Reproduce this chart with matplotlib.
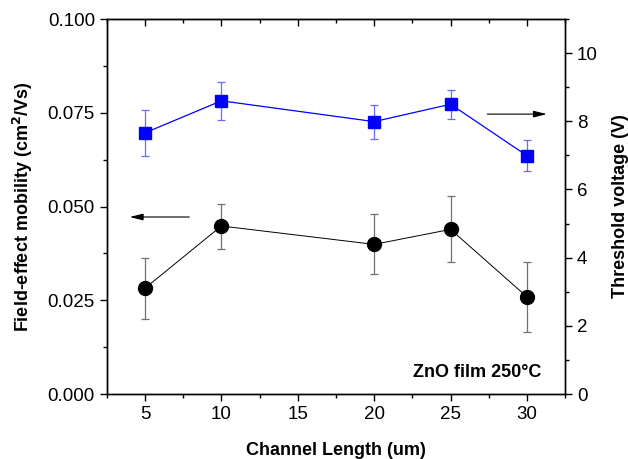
import matplotlib.pyplot as plt
from matplotlib.ticker import MultipleLocator

plt.rcParams['font.family'] = ['Liberation Sans', 'DejaVu Sans']

# channel length (um)
length = [5, 10, 20, 25, 30]

# field-effect mobility (cm2/Vs), left axis
mobility = [0.0282, 0.0448, 0.0399, 0.0439, 0.0259]
mobility_err = [0.0082, 0.0060, 0.0080, 0.0088, 0.0094]

# threshold voltage (V), right axis
vth = [7.66, 8.60, 7.99, 8.50, 6.99]
vth_err = [0.68, 0.55, 0.50, 0.43, 0.45]

fig = plt.figure(figsize=(6.28, 4.59), dpi=100)
ax = fig.add_axes([0.170, 0.1416, 0.730, 0.817])
ax2 = ax.twinx()

# mobility series
ax.errorbar(length, mobility, yerr=mobility_err, color='black', ecolor='#707070',
            elinewidth=0.9, capsize=3, capthick=0.9, lw=0.7, marker='o', ms=10)
# threshold voltage series
ax2.errorbar(length, vth, yerr=vth_err, color='#0000ff', ecolor='#6a6aff',
             elinewidth=0.9, capsize=3, capthick=0.9, lw=0.9, marker='s', ms=9)

ax.set_xlim(2.5, 32.5)
ax.set_ylim(0, 0.1)
ax2.set_ylim(0, 11)

ax.xaxis.set_major_locator(MultipleLocator(5))
ax.xaxis.set_minor_locator(MultipleLocator(2.5))
ax.yaxis.set_major_locator(MultipleLocator(0.025))
ax.yaxis.set_minor_locator(MultipleLocator(0.0125))
ax2.yaxis.set_major_locator(MultipleLocator(2))
ax2.yaxis.set_minor_locator(MultipleLocator(1))
ax.yaxis.set_major_formatter(plt.FormatStrFormatter('%.3f'))

for a in (ax, ax2):
    a.tick_params(which='major', direction='out', length=5, width=1, labelsize=13.5)
    a.tick_params(which='minor', direction='out', length=3, width=1)
    for s in a.spines.values():
        s.set_linewidth(1.0)

top = ax.secondary_xaxis('top')
top.xaxis.set_major_locator(MultipleLocator(5))
top.xaxis.set_minor_locator(MultipleLocator(2.5))
top.tick_params(which='major', direction='in', length=5, width=1, labeltop=False)
top.tick_params(which='minor', direction='in', length=3, width=1)

ax.set_xlabel('Channel Length (um)', fontsize=13, fontweight='bold', labelpad=14)
ax.set_ylabel('Field-effect mobility (cm$^\\mathbf{2}$/Vs)', fontsize=13, fontweight='bold', labelpad=9)
ax2.set_ylabel('Threshold voltage (V)', fontsize=13, fontweight='bold', labelpad=10)

# arrows pointing at the matching axis
ax.annotate('', xy=(4.0, 0.0472), xytext=(7.9, 0.0472),
            arrowprops=dict(arrowstyle='-|>,head_length=0.8,head_width=0.2', color='black', lw=0.8,
                            mutation_scale=10, shrinkA=0, shrinkB=0))
ax2.annotate('', xy=(31.3, 8.21), xytext=(27.4, 8.21),
             arrowprops=dict(arrowstyle='-|>,head_length=0.8,head_width=0.2', color='black', lw=0.8,
                             mutation_scale=10, shrinkA=0, shrinkB=0))

ax.text(30.95, 0.0057, 'ZnO film 250°C', fontsize=13, fontweight='bold', ha='right', va='center')

fig.savefig('out.png', dpi=100)
